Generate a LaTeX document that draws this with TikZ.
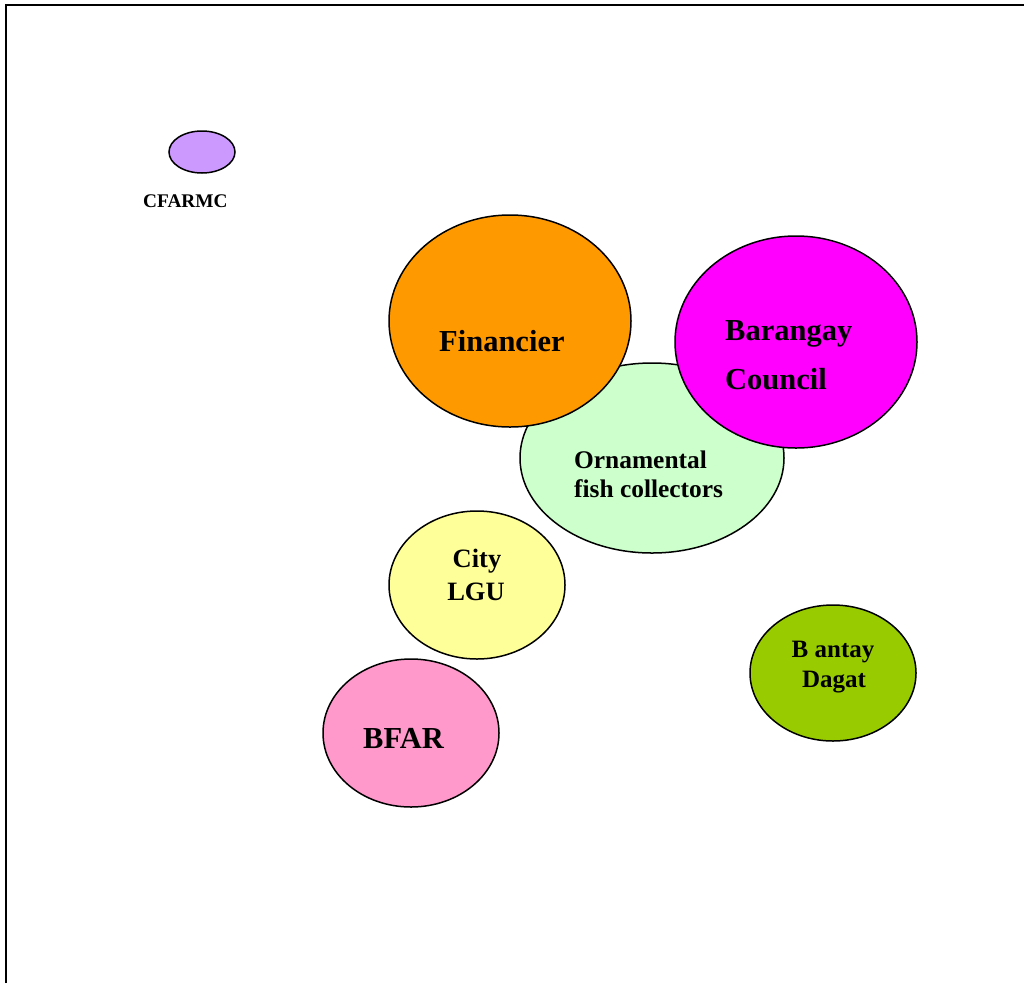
\documentclass[tikz,border=0pt]{standalone}
\usepackage{fontspec}
\setmainfont{Liberation Serif}
\usetikzlibrary{shapes.geometric}
\definecolor{cfarmc}{HTML}{CC99FF}
\definecolor{fin}{HTML}{FF9900}
\definecolor{orn}{HTML}{CCFFCC}
\definecolor{bar}{HTML}{FF00FF}
\definecolor{lgu}{HTML}{FFFF99}
\definecolor{bfar}{HTML}{FF99CC}
\definecolor{bantay}{HTML}{99CC00}
\tikzset{
  blob/.style={ellipse, draw=black, line width=1.5pt, inner sep=0pt, outer sep=0pt},
  lbl/.style={anchor=base west, inner sep=0pt, font=\bfseries},
}
\begin{document}
\begin{tikzpicture}[x=1pt,y=-1pt]
\useasboundingbox (0,0) rectangle (1024,983);
\draw[line width=2pt] (6,983) -- (6,5) -- (1024,5);
% CFARMC
\node[blob, fill=cfarmc, minimum width=66pt, minimum height=42pt] (cf) at (202,152) {};
\node[lbl, font=\bfseries\fontsize{19.3}{22}\selectfont] (cft) at (143,207) {CFARMC};
% Ornamental fish collectors
\node[blob, fill=orn, minimum width=264pt, minimum height=190pt] (orn) at (652,458) {};
% Financier
\node[blob, fill=fin, minimum width=242pt, minimum height=212pt] (fin) at (510,321) {};
% Barangay Council
\node[blob, fill=bar, minimum width=242pt, minimum height=212pt] (bar) at (796,342) {};
% City LGU
\node[blob, fill=lgu, minimum width=176pt, minimum height=148pt] (lgu) at (477,585) {};
% BFAR
\node[blob, fill=bfar, minimum width=176pt, minimum height=148pt] (bfar) at (411,733) {};
% Bantay Dagat
\node[blob, fill=bantay, minimum width=166pt, minimum height=136pt] (ban) at (833,673) {};
% labels
\node[lbl, font=\bfseries\fontsize{30.5}{34}\selectfont] (fint) at (439,351) {Financier};
\node[lbl, font=\bfseries\fontsize{25.4}{28}\selectfont] (ornt1) at (574,468) {Ornamental};
\node[lbl, font=\bfseries\fontsize{25.4}{28}\selectfont] (ornt2) at (574,497) {fish collectors};
\node[lbl, font=\bfseries\fontsize{30.5}{34}\selectfont] (bart1) at (725,340) {Barangay};
\node[lbl, font=\bfseries\fontsize{30.5}{34}\selectfont] (bart2) at (725,389) {Council};
\node[anchor=base, inner sep=0pt, font=\bfseries\fontsize{26.5}{30}\selectfont] (lgut1) at (477,567) {City};
\node[anchor=base, inner sep=0pt, font=\bfseries\fontsize{26.5}{30}\selectfont] (lgut2) at (476,600) {LGU};
\node[lbl, font=\bfseries\fontsize{30.5}{34}\selectfont] (bfart) at (363,748) {BFAR};
\node[anchor=base, inner sep=0pt, font=\bfseries\fontsize{25}{28}\selectfont] (bant1) at (833,657) {B antay};
\node[anchor=base, inner sep=0pt, font=\bfseries\fontsize{25}{28}\selectfont] (bant2) at (834,687) {Dagat};
\end{tikzpicture}
\end{document}
